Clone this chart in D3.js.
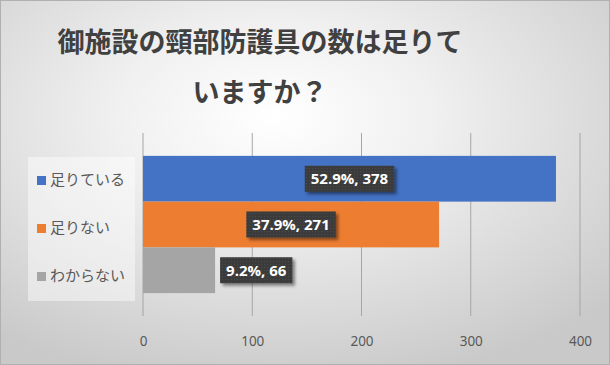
<!DOCTYPE html>
<html><head><meta charset="utf-8">
<script src="https://cdn.jsdelivr.net/npm/d3@7"></script>
<style>html,body{margin:0;padding:0;background:#fff;}</style>
</head><body>
<script>
const titleLines = ["御施設の頸部防護具の数は足りて", "いますか？"];
const seriesNames = ["足りている", "足りない", "わからない"];
const seriesValues = [378, 271, 66];
const seriesPercents = ["52.9%", "37.9%", "9.2%"];
const seriesColors = ["#4472C4", "#ED7D31", "#A5A5A5"];
const tickValues = [0, 100, 200, 300, 400];
const categories = ["回答"];

const W = 610, H = 365;
const svg = d3.select("body").append("svg").attr("width", W).attr("height", H);
const defs = svg.append("defs");
const rg = defs.append("radialGradient").attr("id", "bg")
  .attr("cx", "45%").attr("cy", "32%").attr("r", "75%");
rg.append("stop").attr("offset", "0%").attr("stop-color", "#ffffff");
rg.append("stop").attr("offset", "35%").attr("stop-color", "#f0f0f0");
rg.append("stop").attr("offset", "100%").attr("stop-color", "#c9c9c9");
const pat = defs.append("pattern").attr("id", "dots").attr("width", 3).attr("height", 3)
  .attr("patternUnits", "userSpaceOnUse");
pat.append("rect").attr("width", 3).attr("height", 3).attr("fill", "#3a3a3a");
pat.append("rect").attr("width", 1).attr("height", 1).attr("fill", "#4c4c4c");
const flt = defs.append("filter").attr("id", "sh").attr("x", "-20%").attr("y", "-30%").attr("width", "150%").attr("height", "180%");
flt.append("feDropShadow").attr("dx", 2.5).attr("dy", 2.5).attr("stdDeviation", 1.6)
  .attr("flood-color", "#000").attr("flood-opacity", 0.45);

svg.append("rect").attr("x", 0.5).attr("y", 0.5).attr("width", W - 1).attr("height", H - 1)
  .attr("fill", "url(#bg)").attr("stroke", "#b0b0b0");

// title
const title = svg.append("text").attr("text-anchor", "middle")
  .attr("font-family", "'Noto Sans CJK JP'").attr("font-weight", "bold")
  .attr("font-size", 27).attr("fill", "#404040");
titleLines.forEach((t, i) => {
  title.append("tspan").attr("x", 260).attr("y", 52 + i * 50).text(t);
});

const plotL = 143, plotR = 580, plotT = 133, plotB = 316;
const x = d3.scaleLinear().domain([0, 400]).range([plotL, plotR]);
const yCat = d3.scaleBand().domain(categories).range([plotT, plotB]);
const ySer = d3.scaleBand().domain(seriesNames).range([0, yCat.bandwidth()])
  .paddingInner(0).paddingOuter(0.5);

// gridlines
svg.append("g").selectAll("line").data(tickValues).join("line")
  .attr("x1", d => x(d)).attr("x2", d => x(d))
  .attr("y1", plotT).attr("y2", plotB)
  .attr("stroke", "#a6a6a6").attr("stroke-width", 1);

// axis
const axis = svg.append("g").attr("transform", `translate(0,${plotB})`)
  .call(d3.axisBottom(x).tickValues(tickValues).tickSize(0).tickPadding(20));
axis.select(".domain").remove();
axis.selectAll("text").attr("font-family", "'Noto Sans', sans-serif")
  .attr("font-size", 13.5).attr("fill", "#595959");

// bars
const g = svg.append("g").attr("transform", `translate(0,${yCat(categories[0])})`);
g.selectAll("rect").data(seriesNames).join("rect")
  .attr("x", x(0)).attr("y", d => ySer(d))
  .attr("width", (d, i) => x(seriesValues[i]) - x(0))
  .attr("height", ySer.bandwidth())
  .attr("fill", (d, i) => seriesColors[i]);

// labels
seriesNames.forEach((s, i) => {
  const txt = `${seriesPercents[i]}, ${seriesValues[i]}`;
  const cy = yCat(categories[0]) + ySer(s) + ySer.bandwidth() / 2;
  const barEnd = x(seriesValues[i]);
  const tmp = svg.append("text").attr("font-family", "'Open Sans', sans-serif")
    .attr("font-weight", "bold").attr("font-size", 15).text(txt);
  const tw = tmp.node().getComputedTextLength();
  tmp.remove();
  const bw = tw + 12, bh = 26;
  const inside = (barEnd - x(0)) > bw + 20;
  const cx = inside ? (x(0) + barEnd) / 2 : barEnd + 5 + bw / 2;
  const lg = svg.append("g");
  lg.append("rect").attr("x", cx - bw / 2).attr("y", cy - bh / 2)
    .attr("width", bw).attr("height", bh).attr("fill", "url(#dots)").attr("filter", "url(#sh)");
  lg.append("text").attr("x", cx).attr("y", cy).attr("dy", "0.36em")
    .attr("text-anchor", "middle").attr("font-family", "'Open Sans', sans-serif")
    .attr("font-weight", "bold").attr("font-size", 15).attr("fill", "#ffffff").text(txt);
});

// legend
const leg = svg.append("g");
leg.append("rect").attr("x", 28).attr("y", 157).attr("width", 107).attr("height", 144)
  .attr("fill", "#ffffff").attr("fill-opacity", 0.45);
seriesNames.forEach((s, i) => {
  const cy = 180 + i * 48;
  leg.append("rect").attr("x", 37).attr("y", cy - 4).attr("width", 9).attr("height", 9)
    .attr("fill", seriesColors[i]);
  leg.append("text").attr("x", 50).attr("y", cy).attr("dy", "0.36em")
    .attr("font-family", "'Noto Sans CJK JP'").attr("font-size", 15)
    .attr("fill", "#595959").text(s);
});
</script>
</body></html>
